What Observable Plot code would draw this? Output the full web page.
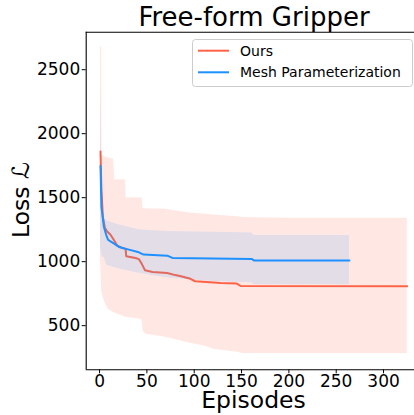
<!DOCTYPE html>
<html>
<head>
<meta charset="utf-8">
<script src="https://cdn.jsdelivr.net/npm/d3@7"></script>
<script src="https://cdn.jsdelivr.net/npm/@observablehq/plot@0.6"></script>
<style>
  html, body { margin: 0; padding: 0; background: white; }
  #chart { width: 414px; height: 415px; overflow: hidden; }
</style>
</head>
<body>
<div id="chart"></div>
<script>
// ---- data ----
const titleText = "Free-form Gripper";
const xLabel = "Episodes";
const yLabel = "Loss ℒ";
const seriesNames = ["Ours", "Mesh Parameterization"];
const xTicks = [0, 50, 100, 150, 200, 250, 300];
const yTicks = [500, 1000, 1500, 2000, 2500];
const xDomain = [-14.1, 332.7];
const yDomain = [155, 2793];

// Ours: mean line
const oursMean = [
  [1, 1860], [2, 1560], [3.5, 1350], [5.6, 1265], [8, 1236], [11.6, 1210],
  [15, 1171], [18.7, 1125], [24, 1107], [27.5, 1100], [28.2, 1042], [38, 1029],
  [41.5, 1020], [45, 977], [48, 933], [56, 920], [71.5, 912], [80, 895],
  [86, 886], [96, 866], [101, 847], [128, 834], [145, 829], [149, 810], [325, 808]
];
// Ours: band [x, lower, upper]
const oursBand = [
  [1, 1020, 2680], [2.2, 780, 2680], [2.6, 760, 1830], [4.5, 705, 1825],
  [6.3, 667, 1818], [9.5, 627, 1810], [15, 603, 1800], [16, 600, 1640],
  [19, 590, 1640], [27.5, 566, 1640], [28.2, 566, 1500], [43, 550, 1500],
  [45, 540, 1500], [46, 458, 1415], [49, 433, 1414], [70, 410, 1410],
  [91, 370, 1385], [96, 362, 1380], [112, 339, 1370], [120, 316, 1365],
  [146, 293, 1350], [151, 282, 1345], [200, 282, 1340], [325, 282, 1340]
];
// Mesh Parameterization: mean line
const meshMean = [
  [1, 1750], [2, 1430], [4.5, 1275], [7, 1210], [9, 1171], [11.6, 1158],
  [17, 1133], [20.5, 1115], [31, 1094], [41.5, 1073], [46.5, 1055],
  [71.5, 1047], [77, 1029], [161, 1021], [163, 1010], [264, 1010]
];
// Mesh Parameterization: band [x, lower, upper]
const meshBand = [
  [1, 1110, 2390], [2, 1060, 1800], [3.5, 1030, 1420], [4.5, 1040, 1343],
  [8, 970, 1318], [20, 945, 1288], [41.5, 910, 1249], [70, 875, 1235],
  [120, 845, 1230], [161, 835, 1224], [163, 820, 1205], [264, 820, 1205]
];

const oursColor = "#ff6347";
const meshColor = "#1e90ff";

const plot = Plot.plot({
  width: 414,
  height: 415,
  marginLeft: 85.7,
  marginRight: 0,
  marginTop: 31.7,
  marginBottom: 45.7,
  style: { fontFamily: "DejaVu Sans", fontSize: "17px", background: "white", color: "black", overflow: "visible" },
  x: { domain: xDomain, ticks: xTicks, tickFormat: "d", label: null, tickSize: 4, tickPadding: 1 },
  y: { domain: yDomain, ticks: yTicks, tickFormat: "d", label: null, tickSize: 4, tickPadding: 2 },
  marks: [
    Plot.areaY(oursBand, { x: d => d[0], y1: d => d[1], y2: d => d[2], fill: oursColor, fillOpacity: 0.15 }),
    Plot.line(oursMean, { x: d => d[0], y: d => d[1], stroke: oursColor, strokeWidth: 2 }),
    Plot.areaY(meshBand, { x: d => d[0], y1: d => d[1], y2: d => d[2], fill: meshColor, fillOpacity: 0.13 }),
    Plot.line(meshMean, { x: d => d[0], y: d => d[1], stroke: meshColor, strokeWidth: 2 }),
    Plot.ruleX([xDomain[0]], { stroke: "black", strokeWidth: 1.1 }),
    Plot.ruleY([yDomain[0], yDomain[1]], { stroke: "black", strokeWidth: 1.1 })
  ]
});

document.getElementById("chart").appendChild(plot);

const svg = d3.select(plot);
const font = "DejaVu Sans";

// title
svg.append("text")
  .attr("x", 254).attr("y", 26)
  .attr("text-anchor", "middle")
  .attr("font-family", font).attr("font-size", 26)
  .attr("fill", "black")
  .text(titleText);

// x label
svg.append("text")
  .attr("x", 253.5).attr("y", 408)
  .attr("text-anchor", "middle")
  .attr("font-family", font).attr("font-size", 23.5)
  .attr("fill", "black")
  .text(xLabel);

// y label
svg.append("text")
  .attr("transform", "translate(29,200) rotate(-90)")
  .attr("text-anchor", "middle")
  .attr("font-family", font).attr("font-size", 23.5)
  .attr("fill", "black")
  .text(yLabel);

// legend
const lg = svg.append("g");
lg.append("rect")
  .attr("x", 192.5).attr("y", 39.5).attr("width", 220).attr("height", 47)
  .attr("rx", 3).attr("ry", 3)
  .attr("fill", "white").attr("fill-opacity", 0.8)
  .attr("stroke", "#cccccc").attr("stroke-width", 1);
const legendColors = [oursColor, meshColor];
seriesNames.forEach((name, i) => {
  const cy = 50.7 + i * 21.6;
  lg.append("line")
    .attr("x1", 198).attr("x2", 229).attr("y1", cy).attr("y2", cy)
    .attr("stroke", legendColors[i]).attr("stroke-width", 2);
  lg.append("text")
    .attr("x", 240).attr("y", cy).attr("dy", "0.36em")
    .attr("text-anchor", "start")
    .attr("font-family", font).attr("font-size", 14)
    .attr("fill", "black")
    .text(name);
});
</script>
</body>
</html>
